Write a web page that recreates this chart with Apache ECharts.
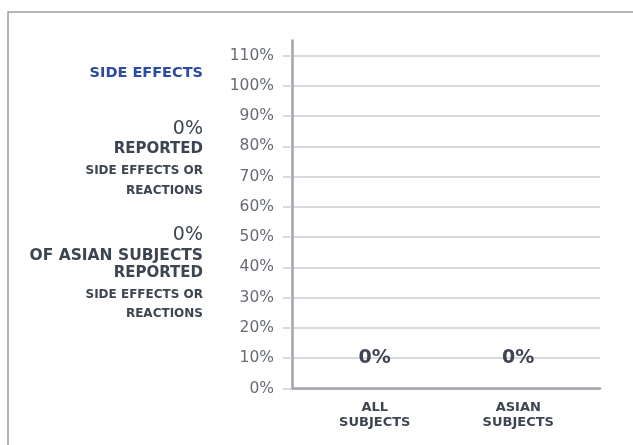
<!DOCTYPE html>
<html>
<head>
<meta charset="utf-8">
<script src="https://cdn.jsdelivr.net/npm/echarts@6/dist/echarts.min.js"></script>
<style>html,body{margin:0;padding:0;background:#fff;}#c{width:633px;height:445px;}</style>
</head>
<body>
<div id="c"></div>
<script>
var categories = ['ALL\nSUBJECTS', 'ASIAN\nSUBJECTS'];
var values = [0, 0];
var yTicks = [0, 10, 20, 30, 40, 50, 60, 70, 80, 90, 100, 110];
var sideTexts = [
  ['SIDE EFFECTS', 73.5, 'bold 14.5px "DejaVu Sans"', '#2b4ca5'],
  ['0%', 129.5, '19px "DejaVu Sans"', '#3d4550'],
  ['REPORTED', 149.5, 'bold 15px "DejaVu Sans"', '#3d4550'],
  ['SIDE EFFECTS OR', 171, 'bold 12px "DejaVu Sans"', '#3d4550'],
  ['REACTIONS', 191, 'bold 12px "DejaVu Sans"', '#3d4550'],
  ['0%', 235.5, '19px "DejaVu Sans"', '#3d4550'],
  ['OF ASIAN SUBJECTS', 255.5, 'bold 15.5px "DejaVu Sans"', '#3d4550'],
  ['REPORTED', 273, 'bold 15px "DejaVu Sans"', '#3d4550'],
  ['SIDE EFFECTS OR', 294.5, 'bold 12px "DejaVu Sans"', '#3d4550'],
  ['REACTIONS', 314, 'bold 12px "DejaVu Sans"', '#3d4550']
];

var chart = echarts.init(document.getElementById('c'), null, {renderer: 'canvas'});
var graphics = [{
  type: 'rect', silent: true, z: -1,
  shape: {x: 8, y: 12, width: 700, height: 500},
  style: {fill: 'none', stroke: '#9b9ea3', lineWidth: 1.5}
}];
sideTexts.forEach(function (t) {
  graphics.push({
    type: 'text', x: 203, y: t[1],
    style: {text: t[0], font: t[2], fill: t[3], align: 'right', verticalAlign: 'middle'}
  });
});

chart.setOption({
  animation: false,
  graphic: graphics,
  grid: [
    {left: 292, right: 33, top: 40.5, bottom: 56.5},
    {left: 303, right: 43, top: 40.5, bottom: 56.5}
  ],
  xAxis: [
    {gridIndex: 0, type: 'category', data: categories,
     axisLine: {show: true, lineStyle: {color: '#a3a4ab', width: 2.5}},
     axisTick: {show: false}, axisLabel: {show: false}, splitLine: {show: false}},
    {gridIndex: 1, type: 'category', data: categories,
     axisLine: {show: false}, axisTick: {show: false}, splitLine: {show: false},
     axisLabel: {show: true, margin: 12, color: '#3d4550',
       fontFamily: 'DejaVu Sans', fontWeight: 'bold', fontSize: 13, lineHeight: 15}}
  ],
  yAxis: [
    {gridIndex: 0, type: 'value', min: 0, max: 115, interval: 10,
     axisLine: {show: true, lineStyle: {color: '#a3a4ab', width: 2.5}},
     axisTick: {show: true, length: 9, customValues: yTicks, lineStyle: {color: '#cdced3', width: 1.5}},
     axisLabel: {show: true, margin: 18, customValues: yTicks, color: '#676b72',
       fontFamily: 'DejaVu Sans', fontSize: 15.5,
       formatter: function (v) { return v + '%'; }},
     splitLine: {show: true, lineStyle: {color: '#cdced3', width: 1.5}}},
    {gridIndex: 1, type: 'value', min: 0, max: 115, interval: 10, show: false,
     splitLine: {show: false}}
  ],
  series: [{
    type: 'bar', xAxisIndex: 1, yAxisIndex: 1, data: values,
    barWidth: 40, itemStyle: {color: '#3d4550'},
    label: {show: true, position: 'top', distance: 21, color: '#3d4550',
      fontFamily: 'DejaVu Sans', fontWeight: 'bold', fontSize: 19,
      formatter: function (p) { return p.value + '%'; }}
  }]
});
</script>
</body>
</html>
